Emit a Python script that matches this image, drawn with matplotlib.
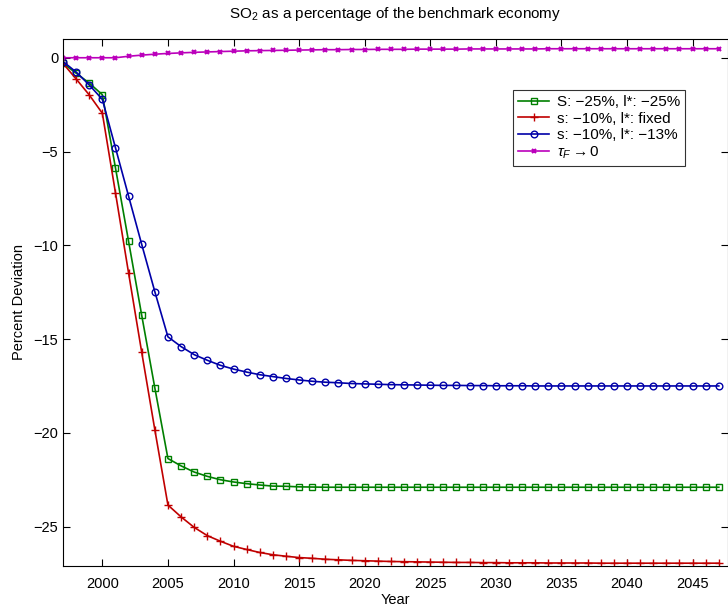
import numpy as np
import matplotlib
matplotlib.use('Agg')
import matplotlib.pyplot as plt

plt.rcParams['font.family'] = ['Liberation Sans', 'DejaVu Sans']
plt.rcParams['mathtext.fontset'] = 'custom'
plt.rcParams['mathtext.rm'] = 'Liberation Sans'
plt.rcParams['mathtext.it'] = 'Liberation Sans:italic'

years = np.arange(1997, 2048)

# S: -25%, l*: -25%
green = [-0.3, -0.82, -1.35, -1.97, -5.87, -9.79, -13.73, -17.6, -21.37, -21.76,
         -22.09, -22.32, -22.5, -22.62, -22.71, -22.78, -22.84, -22.85, -22.88, -22.89,
         -22.9, -22.9, -22.9, -22.9, -22.9, -22.9, -22.9, -22.9, -22.9, -22.9,
         -22.9, -22.9, -22.9, -22.9, -22.9, -22.9, -22.9, -22.9, -22.9, -22.9,
         -22.9, -22.9, -22.9, -22.9, -22.9, -22.9, -22.9, -22.9, -22.9, -22.9, -22.9]

# s: -10%, l*: fixed
red = [-0.3, -1.13, -1.98, -2.96, -7.2, -11.48, -15.7, -19.83, -23.85, -24.48,
       -25.04, -25.48, -25.78, -26.05, -26.22, -26.38, -26.5, -26.58, -26.65, -26.69,
       -26.74, -26.77, -26.8, -26.82, -26.84, -26.86, -26.87, -26.88, -26.89, -26.9,
       -26.91, -26.91, -26.92, -26.92, -26.93, -26.93, -26.93, -26.94, -26.94, -26.94,
       -26.94, -26.95, -26.95, -26.95, -26.95, -26.95, -26.95, -26.95, -26.95, -26.95, -26.95]

# s: -10%, l*: -13%
blue = [-0.2, -0.76, -1.45, -2.22, -4.8, -7.38, -9.95, -12.47, -14.88, -15.4,
        -15.83, -16.13, -16.4, -16.6, -16.76, -16.9, -17.0, -17.1, -17.18, -17.25,
        -17.3, -17.33, -17.37, -17.39, -17.41, -17.43, -17.44, -17.45, -17.46, -17.47,
        -17.47, -17.48, -17.48, -17.49, -17.49, -17.49, -17.5, -17.5, -17.5, -17.5,
        -17.5, -17.5, -17.5, -17.5, -17.5, -17.5, -17.5, -17.5, -17.5, -17.5, -17.5]

# tau_F -> 0
magenta = [0.0, 0.0, 0.0, 0.0, 0.0, 0.08, 0.14, 0.19, 0.23, 0.26,
           0.29, 0.31, 0.33, 0.35, 0.37, 0.38, 0.39, 0.4, 0.41, 0.42,
           0.43, 0.43, 0.44, 0.44, 0.45, 0.45, 0.45, 0.46, 0.46, 0.46,
           0.46, 0.47, 0.47, 0.47, 0.47, 0.47, 0.47, 0.48, 0.48, 0.48,
           0.48, 0.48, 0.48, 0.48, 0.48, 0.48, 0.48, 0.48, 0.48, 0.48, 0.48]

labels = ['S: \u221225%, l*: \u221225%', 's: \u221210%, l*: fixed',
          's: \u221210%, l*: \u221213%', r'$\tau_F \rightarrow 0$']

fig = plt.figure(figsize=(7.28, 6.06), dpi=100)
ax = fig.add_axes([63 / 728, 1 - 566 / 606, 1 - 63 / 728, (566 - 39) / 606])

ax.plot(years, green, color='#007f00', marker='s', ms=3.8, mfc='none', mew=1.0, lw=1.2, label=labels[0])
ax.plot(years, red, color='#c00000', marker='+', ms=5.5, mew=1.0, lw=1.2, label=labels[1])
ax.plot(years, blue, color='#0000a8', marker='o', ms=4.8, mfc='none', mew=1.0, lw=1.2, label=labels[2])
ax.plot(years, magenta, color='#bb00bb', marker='x', ms=3.2, mew=1.5, lw=1.2, label=labels[3])

ax.set_xlim(1997, 2047.7)
ax.set_ylim(-27.1, 1.0)
ax.set_xticks(np.arange(2000, 2050, 5))
ax.set_yticks([0, -5, -10, -15, -20, -25])
ax.set_yticklabels(['0', '\u22125', '\u221210', '\u221215', '\u221220', '\u221225'])
ax.tick_params(direction='in', top=True, right=True, labelsize=10.5, length=5, width=0.8)
ax.tick_params(axis='x', pad=8)
for s in ax.spines.values():
    s.set_linewidth(0.8)

ax.set_title('SO$_2$ as a percentage of the benchmark economy', fontsize=11, pad=15)
ax.set_xlabel('Year', fontsize=10.5, labelpad=1)
ax.set_ylabel('Percent Deviation', fontsize=10.5, labelpad=5)

leg = ax.legend(loc='upper left', bbox_to_anchor=(513 / 728, 1 - 90 / 606),
                bbox_transform=fig.transFigure, borderaxespad=0, fontsize=11,
                numpoints=1, handlelength=2.0, handletextpad=0.5, labelspacing=0.15,
                borderpad=0.35, fancybox=False, frameon=True)
leg.get_frame().set_edgecolor('black')
leg.get_frame().set_linewidth(0.8)

plt.savefig('out.png', dpi=100)
